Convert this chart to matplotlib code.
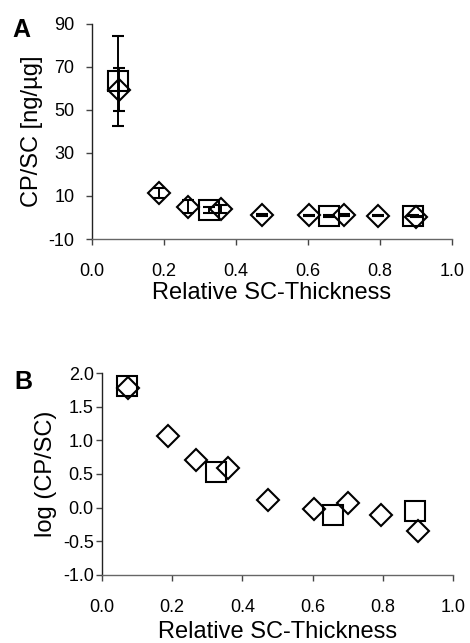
import numpy as np
import matplotlib; matplotlib.use("Agg"); import matplotlib.pyplot as plt

plt.rcParams["font.family"] = ["Liberation Sans", "DejaVu Sans"]
plt.rcParams["axes.unicode_minus"] = False

# diamonds
x_d = [0.074, 0.187, 0.268, 0.358, 0.472, 0.603, 0.700, 0.794, 0.901]
y_d = [59.5, 11.4, 5.1, 3.9, 1.3, 0.95, 1.17, 0.77, 0.45]
e_d = [10.0, 2.5, 3.0, 2.0, 0.5, 0.3, 0.5, 0.3, 0.3]
# squares
x_s = [0.072, 0.325, 0.658, 0.892]
y_s = [63.5, 3.4, 0.77, 0.89]
e_s = [21.0, 1.5, 0.4, 0.4]

xticks = [0.0, 0.2, 0.4, 0.6, 0.8, 1.0]
yticks_a = [-10, 10, 30, 50, 70, 90]
yticks_b = [-1.0, -0.5, 0.0, 0.5, 1.0, 1.5, 2.0]

fig = plt.figure(figsize=(4.70, 6.43), dpi=100)
axA = fig.add_axes([0.1957, 0.6283, 0.766, 0.3344])
axB = fig.add_axes([0.217, 0.1058, 0.747, 0.3141])

def style(ax, ypad, xlabpad):
    for s in ["top", "right"]:
        ax.spines[s].set_visible(False)
    ax.spines["left"].set_color("#222222"); ax.spines["left"].set_linewidth(1.0)
    ax.spines["bottom"].set_color("#666666"); ax.spines["bottom"].set_linewidth(1.0)
    ax.tick_params(direction="out", length=4.5, width=1.0, color="#444444", labelsize=13)
    ax.tick_params(axis="x", pad=13)
    ax.tick_params(axis="y", pad=ypad)
    ax.set_xlim(0, 1); ax.set_xticks(xticks)
    ax.set_xticklabels(["%.1f" % v for v in xticks])
    ax.set_xlabel("Relative SC-Thickness", fontsize=17, labelpad=xlabpad)

mk = dict(mfc="none", mec="black", mew=1.5, ls="none")
axA.errorbar(x_s, y_s, yerr=e_s, fmt="s", ms=14, ecolor="black", elinewidth=1.4,
             capsize=4.5, capthick=1.4, **mk)
axA.errorbar(x_d, y_d, yerr=e_d, fmt="D", ms=11, ecolor="black", elinewidth=1.4,
             capsize=4.5, capthick=1.4, **mk)
axA.set_ylim(-10, 90); axA.set_yticks(yticks_a)
axA.set_ylabel("CP/SC [ng/\u00b5g]", fontsize=17, labelpad=4)
style(axA, 8, 1)

axB.plot(x_s, np.log10(y_s), marker="s", ms=14, **mk)
axB.plot(x_d, np.log10(y_d), marker="D", ms=11, **mk)
axB.set_ylim(-1.0, 2.0); axB.set_yticks(yticks_b)
axB.set_yticklabels(["%.1f" % v for v in yticks_b])
axB.set_ylabel("log (CP/SC)", fontsize=17, labelpad=4)
style(axB, 1.5, 3.5)

fig.text(12/470, 1-37/643, "A", fontsize=18, fontweight="bold")
fig.text(14/470, 1-389/643, "B", fontsize=18, fontweight="bold")

fig.savefig("out.png", dpi=100)
